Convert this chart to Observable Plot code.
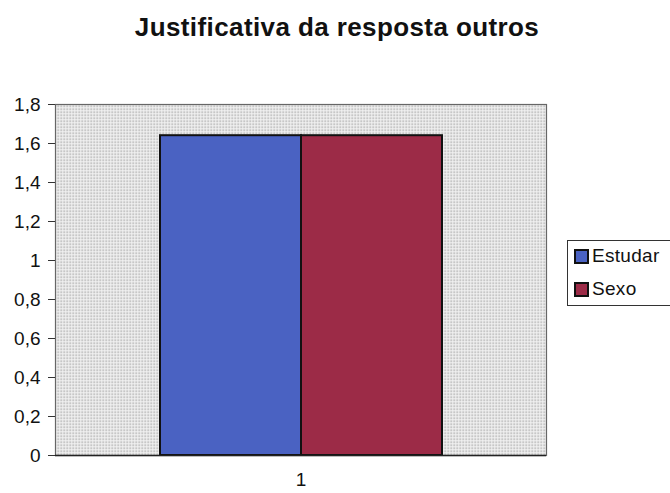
<!DOCTYPE html>
<html>
<head>
<meta charset="utf-8">
<script src="https://cdn.jsdelivr.net/npm/d3@7"></script>
<script src="https://cdn.jsdelivr.net/npm/@observablehq/plot@0.6"></script>
<style>
  body { margin: 0; background: #fff; font-family: "Liberation Sans", Arial, sans-serif; }
  #wrap { position: relative; width: 670px; height: 493px; overflow: hidden; }
  #title { position: absolute; left: 0; width: 670px; top: 12px; text-align: center; font-weight: bold; font-size: 26px; letter-spacing: 0.4px; color: #111; padding-left: 4px; box-sizing: border-box; }
  #legend { position: absolute; left: 567px; top: 240px; width: 110px; height: 66px; border: 1px solid #333; box-sizing: border-box; background: #fff; font-size: 19px; color: #111; }
  .item { position: absolute; left: 6px; display: flex; align-items: center; line-height: 22px; letter-spacing: 0.3px; }
  .sw { width: 11px; height: 11px; border: 2px solid #111; margin-right: 3px; }
  #chart { position: absolute; left: 0; top: 0; }
</style>
</head>
<body>
<div id="wrap">
  <div id="chart"></div>
  <div id="title">Justificativa da resposta outros</div>
  <div id="legend"></div>
</div>
<script>
const categories = ["1"];
const series = ["Estudar", "Sexo"];
const estudarValues = [1.64];
const sexoValues = [1.64];
const colors = ["#4a62c2", "#9c2b47"];
const yTicks = [0, 0.2, 0.4, 0.6, 0.8, 1, 1.2, 1.4, 1.6, 1.8];
const yTickLabels = ["0", "0,2", "0,4", "0,6", "0,8", "1", "1,2", "1,4", "1,6", "1,8"];

const data = [];
categories.forEach((c, i) => {
  data.push({category: c, series: series[0], value: estudarValues[i]});
  data.push({category: c, series: series[1], value: sexoValues[i]});
});

const chart = Plot.plot({
  width: 670,
  height: 493,
  marginLeft: 55,
  marginRight: 124,
  marginTop: 104,
  marginBottom: 38,
  style: {fontFamily: "Liberation Sans, Arial, sans-serif", fontSize: "19px", color: "#111", background: "#fff"},
  fx: {domain: categories, label: null, padding: 0},
  x: {domain: series, paddingInner: 0, paddingOuter: 0.735, axis: null},
  y: {domain: [0, 1.8], label: null},
  color: {domain: series, range: colors},
  marks: [
    Plot.frame({fill: "url(#dots)", stroke: "#666", strokeWidth: 1.2}),
    Plot.barY(data, {fx: "category", x: "series", y: "value", fill: "series", stroke: "#111", strokeWidth: 2, inset: 0}),
    Plot.ruleX([0], {frameAnchor: "left", stroke: "#222", strokeWidth: 1.5}),
    Plot.ruleY([0], {stroke: "#222", strokeWidth: 1.5}),
    Plot.axisY({ticks: yTicks, tickFormat: (d) => yTickLabels[yTicks.indexOf(d)], tickSize: 7, tickPadding: 8, label: null, fontSize: 19, stroke: "#333"}),
    Plot.axisFx({anchor: "bottom", tickSize: 0, tickPadding: 17, label: null, fontSize: 19})
  ]
});

const ns = "http://www.w3.org/2000/svg";
const defs = document.createElementNS(ns, "defs");
defs.innerHTML = `<pattern id="dots" width="3" height="3" patternUnits="userSpaceOnUse">
  <rect width="3" height="3" fill="#f2f2f2"/>
  <rect x="0" y="0" width="1.4" height="1.4" fill="#9a9a9a"/>
</pattern>`;
chart.insertBefore(defs, chart.firstChild);
document.getElementById("chart").appendChild(chart);

const legend = document.getElementById("legend");
series.forEach((s, i) => {
  const it = document.createElement("div");
  it.className = "item";
  it.style.top = (4 + i * 33) + "px";
  it.innerHTML = `<span class="sw" style="background:${colors[i]}"></span><span>${s}</span>`;
  legend.appendChild(it);
});
</script>
</body>
</html>
